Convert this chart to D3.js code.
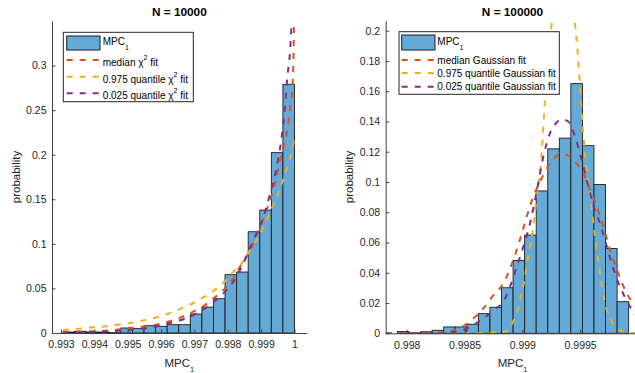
<!DOCTYPE html>
<html><head><meta charset="utf-8">
<script src="https://cdn.jsdelivr.net/npm/d3@7"></script>
<style>
body{margin:0;background:#fff}
svg{display:block;font-family:"Liberation Sans",Arial,Helvetica,sans-serif}
</style>
</head><body>
<svg id="chart" width="635" height="373"></svg>
<script>
// ---------------- data ----------------
const leftTitle = "N = 10000";
const rightTitle = "N = 100000";

const leftBinStart = 0.99306, leftBinWidth = 0.000347;
const leftProb = [0.0011, 0.0019, 0.001, 0.001, 0.0004, 0.0056, 0.0052, 0.0082, 0.0075, 0.0093,
                  0.0093, 0.0213, 0.029, 0.0385, 0.0654, 0.0684, 0.1136, 0.1379, 0.2023, 0.279];

const rightBinStart = 0.99792, rightBinWidth = 0.0001;
const rightProb = [0.0011, 0.0003, 0.001, 0.002, 0.0042, 0.0042, 0.006, 0.013, 0.0172, 0.0301,
                   0.0482, 0.0649, 0.0941, 0.1219, 0.129, 0.165, 0.124, 0.0983, 0.056, 0.0209];

const leftXTicks = [0.993, 0.994, 0.995, 0.996, 0.997, 0.998, 0.999, 1];
const leftXTickLabels = ["0.993", "0.994", "0.995", "0.996", "0.997", "0.998", "0.999", "1"];
const leftYTicks = [0, 0.05, 0.1, 0.15, 0.2, 0.25, 0.3];
const leftYTickLabels = ["0", "0.05", "0.1", "0.15", "0.2", "0.25", "0.3"];

const rightXTicks = [0.998, 0.9985, 0.999, 0.9995];
const rightXTickLabels = ["0.998", "0.9985", "0.999", "0.9995"];
const rightYTicks = [0, 0.02, 0.04, 0.06, 0.08, 0.1, 0.12, 0.14, 0.16, 0.18, 0.2];
const rightYTickLabels = ["0", "0.02", "0.04", "0.06", "0.08", "0.1", "0.12", "0.14", "0.16", "0.18", "0.2"];

const leftLegendLabels = ["median", "0.975 quantile", "0.025 quantile"];
const rightLegendLabels = ["median Gaussian fit", "0.975 quantile Gaussian fit", "0.025 quantile Gaussian fit"];

// fitted curves: [MPC1, probability]
const leftMedianFit = [[0.993061,0.0012],[0.99342,0.0015],[0.994221,0.0022],[0.995018,0.0053],[0.995818,0.009],
  [0.996217,0.0127],[0.996598,0.0176],[0.996966,0.0239],[0.997317,0.0313],[0.997617,0.040],[0.997917,0.050],
  [0.998165,0.0613],[0.998366,0.0743],[0.998765,0.100],[0.998966,0.119],[0.999167,0.138],[0.999415,0.168],
  [0.999616,0.201],[0.999754,0.222],[0.999865,0.25],[0.999946,0.28],[0.99997,0.31],[0.999991,0.36]];
const leftUpperFit = [[0.993061,0.0034],[0.99342,0.0045],[0.993819,0.006],[0.994221,0.007],[0.994619,0.009],
  [0.995018,0.0108],[0.99542,0.0138],[0.995818,0.0171],[0.996217,0.0216],[0.996568,0.0269],[0.996918,0.0328],
  [0.997266,0.040],[0.997566,0.047],[0.997866,0.0563],[0.998165,0.0686],[0.998417,0.078],[0.998666,0.093],
  [0.998966,0.111],[0.999206,0.130],[0.999415,0.148],[0.999616,0.167],[0.999775,0.185],[0.999895,0.2],[0.999994,0.218]];
const leftLowerFit = [[0.993061,0.0005],[0.99342,0.0007],[0.994221,0.0015],[0.995018,0.0034],[0.995818,0.007],
  [0.996217,0.0108],[0.996598,0.0146],[0.996966,0.0202],[0.997317,0.0277],[0.997617,0.0362],[0.997917,0.0462],
  [0.998165,0.0575],[0.998465,0.078],[0.998765,0.104],[0.999065,0.130],[0.999266,0.156],[0.999466,0.186],
  [0.999616,0.22],[0.999715,0.253],[0.999784,0.287],[0.999865,0.315],[0.999916,0.35],[0.99994,0.37]];

const rightMedianFit = [[0.997818,0],[0.998202,0.0002],[0.998346,0.001],[0.998461,0.0035],[0.998562,0.0088],
  [0.998663,0.0165],[0.998749,0.025],[0.998836,0.033],[0.998922,0.0485],[0.99898,0.062],[0.999038,0.0771],
  [0.999095,0.0903],[0.999168,0.1025],[0.99924,0.1124],[0.999311,0.1179],[0.999348,0.1186],[0.999384,0.1179],
  [0.999456,0.1135],[0.999528,0.1058],[0.999586,0.0948],[0.999644,0.0837],[0.999701,0.0705],[0.999759,0.0551],
  [0.99983,0.0397],[0.999903,0.0265],[0.99996,0.0198],[1.00001,0.016]];
const rightUpperFit = [[0.997818,0],[0.998634,0],[0.998836,0.001],[0.998894,0.003],[0.998922,0.008],
  [0.998952,0.013],[0.99898,0.022],[0.999015,0.034],[0.99905,0.05],[0.999084,0.065],[0.999125,0.09],
  [0.999168,0.119],[0.999196,0.1543],[0.999222,0.18],[0.999254,0.205],[0.999291,0.245],[0.999348,0.28],
  [0.999404,0.245],[0.999456,0.205],[0.999484,0.1808],[0.999514,0.1455],[0.999542,0.119],[0.999586,0.0903],
  [0.999629,0.0639],[0.999672,0.0397],[0.99973,0.0154],[0.999759,0.01],[0.999802,0.0046],[0.99989,0.0009],[1.00001,0]];
const rightLowerFit = [[0.997818,0],[0.998245,0],[0.998389,0.0007],[0.99849,0.0022],[0.998576,0.0055],
  [0.998677,0.0105],[0.998764,0.016],[0.998836,0.021],[0.998894,0.0308],[0.998952,0.044],[0.999009,0.0573],
  [0.999067,0.0727],[0.999125,0.094],[0.999182,0.1168],[0.99924,0.1323],[0.999292,0.139],[0.999343,0.1415],
  [0.999398,0.14],[0.999456,0.13],[0.999514,0.1146],[0.999571,0.097],[0.999629,0.081],[0.999672,0.0728],
  [0.999715,0.0617],[0.999773,0.0463],[0.999845,0.0308],[0.999917,0.0198],[0.99996,0.0143],[1.00001,0.011]];

// ---------------- style ----------------
const barFill = "rgb(101,170,215)";
const barEdge = "#1c1c1c";
const cMedian = "#D95319", cUpper = "#EDB120", cLower = "#7E2F8E";
const axisColor = "#404040", textColor = "#262626";
const dash = "6,7";

const svg = d3.select("#chart");

function drawPanel(cfg) {
  const g = svg.append("g");
  const x = d3.scaleLinear().domain(cfg.xDomain).range([cfg.left, cfg.right]);
  const y = d3.scaleLinear().domain(cfg.yDomain).range([cfg.bottom, cfg.top]);

  const clipId = "clip" + cfg.id;
  svg.append("clipPath").attr("id", clipId).append("rect")
    .attr("x", cfg.left).attr("y", cfg.top).attr("width", cfg.right - cfg.left).attr("height", cfg.bottom - cfg.top);

  // bars
  const bins = cfg.prob.map((p, i) => ({x0: cfg.binStart + i * cfg.binWidth, x1: cfg.binStart + (i + 1) * cfg.binWidth, p}));
  g.append("g").selectAll("rect").data(bins).join("rect")
    .attr("x", d => x(d.x0)).attr("width", d => x(d.x1) - x(d.x0))
    .attr("y", d => y(d.p)).attr("height", d => y(0) - y(d.p))
    .attr("fill", barFill).attr("stroke", barEdge).attr("stroke-width", 0.9);

  // curves
  const line = d3.line().x(d => x(d[0])).y(d => y(d[1])).curve(d3.curveMonotoneX);
  const cg = g.append("g").attr("clip-path", `url(#${clipId})`);
  [[cfg.median, cMedian], [cfg.upper, cUpper], [cfg.lower, cLower]].forEach(([pts, col]) => {
    cg.append("path").attr("d", line(pts)).attr("fill", "none").attr("stroke", col)
      .attr("stroke-width", 2).attr("stroke-dasharray", dash);
  });

  // axes
  const ax = d3.axisBottom(x).tickValues(cfg.xTicks).tickFormat((d, i) => cfg.xTickLabels[i])
    .tickSizeInner(-3.5).tickSizeOuter(0).tickPadding(8);
  const ay = d3.axisLeft(y).tickValues(cfg.yTicks).tickFormat((d, i) => cfg.yTickLabels[i])
    .tickSizeInner(-3.5).tickSizeOuter(0).tickPadding(5.5);
  const gx = g.append("g").attr("transform", `translate(0,${cfg.bottom})`).call(ax);
  const gy = g.append("g").attr("transform", `translate(${cfg.left},0)`).call(ay);
  [gx, gy].forEach(a => {
    a.select(".domain").attr("stroke", axisColor).attr("stroke-width", 1);
    a.selectAll(".tick line").attr("stroke", axisColor).attr("stroke-width", 1);
    a.selectAll(".tick text").attr("fill", textColor).attr("font-size", 10.5)
      .attr("font-family", "Liberation Sans, Arial, sans-serif");
  });

  const cx = (cfg.left + cfg.axisRightFull) / 2;
  // title
  g.append("text").attr("x", cx).attr("y", 15.7).attr("text-anchor", "middle")
    .attr("font-size", 11.8).attr("font-weight", "bold").attr("fill", "#000").text(cfg.title);
  // x label
  const xl = g.append("text").attr("x", cx).attr("y", 366.7).attr("text-anchor", "middle")
    .attr("font-size", 11.5).attr("fill", textColor);
  xl.append("tspan").text("MPC");
  xl.append("tspan").attr("font-size", 7.5).attr("dy", 5.6).text("1");
  // y label
  g.append("text").attr("transform", `translate(${cfg.left - 32.5},${(cfg.top + cfg.bottom) / 2}) rotate(-90)`)
    .attr("text-anchor", "middle").attr("font-size", 11.5).attr("fill", textColor).text("probability");

  // legend
  const L = cfg.legend;
  const lg = g.append("g");
  lg.append("rect").attr("x", L.x0).attr("y", L.y0).attr("width", L.x1 - L.x0).attr("height", L.y1 - L.y0)
    .attr("fill", "#fff").attr("stroke", "#262626").attr("stroke-width", 1);
  lg.append("rect").attr("x", L.sx0).attr("y", L.patchY0).attr("width", L.sx1 - L.sx0).attr("height", L.patchY1 - L.patchY0)
    .attr("fill", barFill).attr("stroke", barEdge).attr("stroke-width", 1);
  const t0 = lg.append("text").attr("x", L.tx).attr("y", L.patchBase).attr("font-size", 10).attr("fill", "#000");
  t0.append("tspan").text("MPC");
  t0.append("tspan").attr("font-size", 7).attr("dy", 4.5).text("1");
  [cMedian, cUpper, cLower].forEach((col, i) => {
    const ly = L.rows[i];
    lg.append("line").attr("x1", L.sx0).attr("x2", L.sx1).attr("y1", ly).attr("y2", ly)
      .attr("stroke", col).attr("stroke-width", 2).attr("stroke-dasharray", dash);
    const t = lg.append("text").attr("x", L.tx).attr("y", ly + L.baseOff).attr("font-size", 10).attr("fill", "#000");
    if (cfg.chi) {
      t.append("tspan").text(cfg.legendLabels[i] + " ");
      t.append("tspan").text("χ");
      t.append("tspan").attr("font-size", 7).attr("dy", -6).text("2");
      t.append("tspan").attr("dy", 6).text(" fit");
    } else {
      t.text(cfg.legendLabels[i]);
    }
  });
}

drawPanel({
  id: "L", left: 52, right: 306.7, axisRightFull: 306.7, top: 21, bottom: 333,
  xDomain: [0.992731, 1.000366], yDomain: [0, 0.35],
  binStart: leftBinStart, binWidth: leftBinWidth, prob: leftProb,
  xTicks: leftXTicks, xTickLabels: leftXTickLabels, yTicks: leftYTicks, yTickLabels: leftYTickLabels,
  median: leftMedianFit, upper: leftUpperFit, lower: leftLowerFit,
  title: leftTitle, chi: true, legendLabels: leftLegendLabels,
  legend: {x0: 63.3, x1: 193.3, y0: 32.3, y1: 101.7, sx0: 66.7, sx1: 100, tx: 102.7,
           patchY0: 36, patchY1: 50, patchBase: 45, rows: [60, 76.7, 93.3], baseOff: 6}
});

drawPanel({
  id: "R", left: 385.7, right: 639.3, axisRightFull: 639.3, top: 20.7, bottom: 333.3,
  xDomain: [0.997818, 1.000012], yDomain: [0, 0.2066],
  binStart: rightBinStart, binWidth: rightBinWidth, prob: rightProb,
  xTicks: rightXTicks, xTickLabels: rightXTickLabels, yTicks: rightYTicks, yTickLabels: rightYTickLabels,
  median: rightMedianFit, upper: rightUpperFit, lower: rightLowerFit,
  title: rightTitle, chi: false, legendLabels: rightLegendLabels,
  legend: {x0: 399, x1: 559.3, y0: 31.7, y1: 94.3, sx0: 401.7, sx1: 435, tx: 437.3,
           patchY0: 35, patchY1: 50, patchBase: 45, rows: [60, 73, 86.7], baseOff: 3.5}
});
</script>
</body></html>
